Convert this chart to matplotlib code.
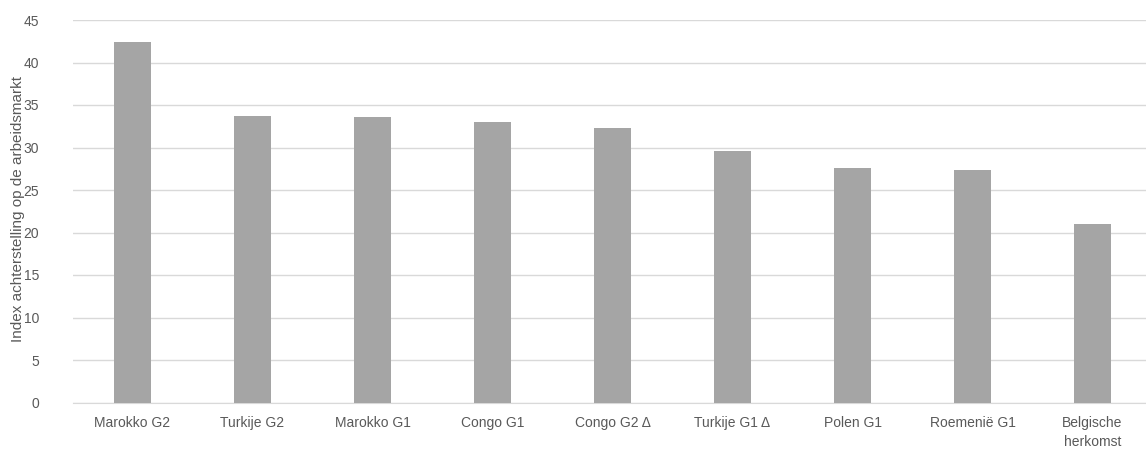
import matplotlib
matplotlib.use("Agg")
from matplotlib import pyplot as plt

categories = ["Marokko G2", "Turkije G2", "Marokko G1", "Congo G1", "Congo G2 \u0394",
              "Turkije G1 \u0394", "Polen G1", "Roemeni\u00eb G1", "Belgische\nherkomst"]
values = [42.4, 33.7, 33.6, 33.0, 32.3, 29.6, 27.6, 27.4, 21.0]
yticks = [0, 5, 10, 15, 20, 25, 30, 35, 40, 45]

plt.rcParams['font.family'] = ['Liberation Sans Narrow', 'Liberation Sans', 'DejaVu Sans']
text_col = "#595959"

fig = plt.figure(figsize=(11.46, 4.58), dpi=100)
ax = fig.add_axes([72.5 / 1146, 1 - 402.5 / 458, 1 - 72.5 / 1146, 382.5 / 458])

x = list(range(len(categories)))
ax.bar(x, values, width=0.31, color="#a5a5a5", zorder=3)

ax.set_xlim(-0.5, -0.5 + (1146 - 72.5) / 120)
ax.set_ylim(0, 45)
ax.set_yticks(yticks)
ax.set_xticks(x)
ax.set_xticklabels(categories, linespacing=1.4)
ax.grid(axis="y", color="#d9d9d9", linewidth=1, zorder=0)
for s in ["top", "right", "left"]:
    ax.spines[s].set_visible(False)
ax.spines["bottom"].set_color("#d9d9d9")
ax.tick_params(axis="both", length=0, labelsize=10, colors=text_col)
ax.tick_params(axis="x", pad=10)
ax.tick_params(axis="y", pad=24)
ax.set_ylabel("Index achterstelling op de arbeidsmarkt", fontsize=11, color=text_col)
ax.yaxis.set_label_coords((25 - 72.5) / 1073.5, (402.5 - 209) / 382.5)

fig.savefig("out.png", dpi=100)
